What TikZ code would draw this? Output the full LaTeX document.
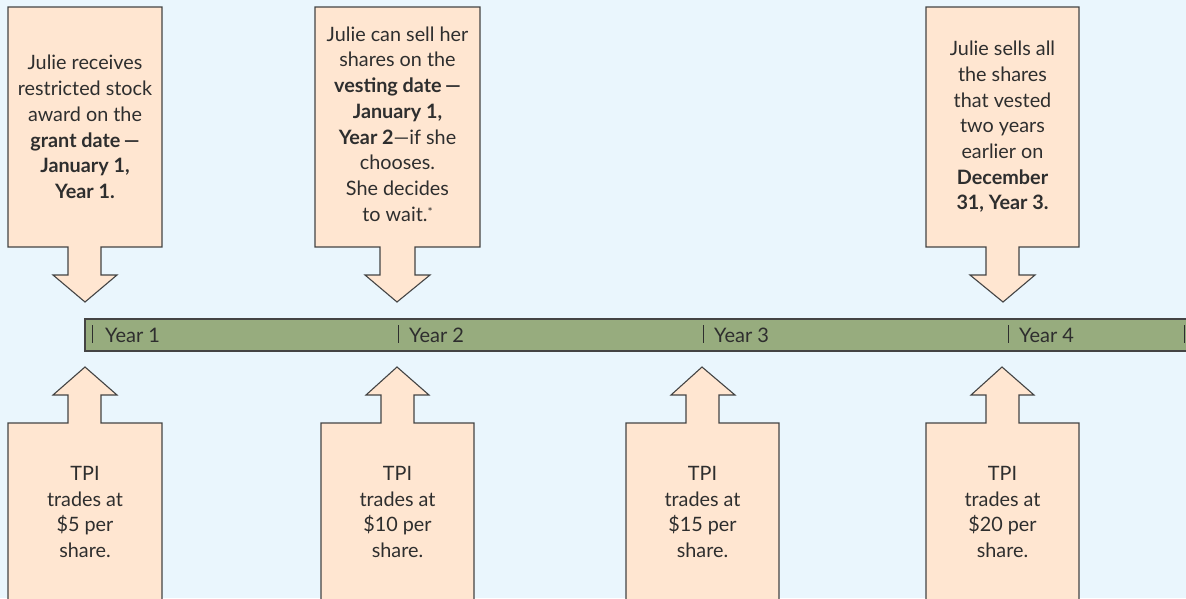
\documentclass[tikz,border=0pt]{standalone}
\usepackage{fontspec}
\setmainfont{Lato}
\definecolor{bgblue}{HTML}{EAF6FD}
\definecolor{peach}{HTML}{FFE6D1}
\definecolor{bargreen}{HTML}{97AC7E}
\definecolor{txt}{HTML}{2E2E2E}
\definecolor{edge}{HTML}{444444}
\newcommand\dcall[7]{% x1 x2 sl sr hl hr tip
  \draw[callout] (#1,7) -- (#2,7) -- (#2,247) -- (#4,247) -- (#4,275) -- (#6,275) -- (#7,302) -- (#5,275) -- (#3,275) -- (#3,247) -- (#1,247) -- cycle;}
\newcommand\ucall[7]{%
  \draw[callout] (#1,605) -- (#1,423) -- (#3,423) -- (#3,395) -- (#5,395) -- (#7,367) -- (#6,395) -- (#4,395) -- (#4,423) -- (#2,423) -- (#2,605) -- cycle;}
\begin{document}
\begin{tikzpicture}[x=1pt,y=-1pt,
  callout/.style={fill=peach,draw=edge,line width=1.1pt,line join=miter},
  ctext/.style={text=txt,align=center,font=\fontsize{19.8}{25.7}\selectfont,inner sep=0pt},
  yeartext/.style={text=txt,anchor=west,font=\fontsize{20}{22}\selectfont,inner sep=0pt},
  tick/.style={draw=txt,line width=1pt}]
\fill[bgblue] (0,0) rectangle (1186,598);
\useasboundingbox (0,0) rectangle (1186,598);
% top callouts
\dcall{8}{162}{68}{101}{53}{117}{85}
\dcall{315}{480}{380}{415}{365}{430}{397}
\dcall{926}{1079}{986}{1019}{970}{1035}{1003}
\node[ctext] (ta) at (85,127) {Julie receives\\restricted stock\\award on the\\\textbf{grant date\,—}\\\textbf{January 1,}\\\textbf{Year 1.}};
\node[ctext] (tb) at (397.5,124) {Julie can sell her\\shares on the\\\textbf{vesting date\,—}\\\textbf{January 1,}\\\textbf{Year 2}—if she\\chooses.\\She decides\\to wait.\raisebox{0.5ex}{\fontsize{12}{12}\selectfont *}};
\node[ctext] (tc) at (1002.5,127) {Julie sells all\\the shares\\that vested\\two years\\earlier on\\\textbf{December}\\\textbf{31, Year 3.}};
% timeline bar
\draw[fill=bargreen,draw=edge,line width=1.3pt] (85,319) rectangle (1192,351);
\foreach \x in {92,398,703,1008,1184}{\draw[tick] (\x,325) -- (\x,343);}
\node[yeartext] (y1) at (105,335) {Year 1};
\node[yeartext] (y2) at (409,335) {Year 2};
\node[yeartext] (y3) at (714,335) {Year 3};
\node[yeartext] (y4) at (1019,335) {Year 4};
% bottom callouts
\ucall{8}{162}{68}{101}{53}{117}{85}
\ucall{321}{474}{381}{414}{366}{429}{397}
\ucall{626}{779}{686}{719}{671}{735}{702}
\ucall{926}{1079}{986}{1019}{971}{1034}{1002}
\node[ctext] (b1) at (85,512) {TPI\\trades at\\\$5 per\\share.};
\node[ctext] (b2) at (397.5,512) {TPI\\trades at\\\$10 per\\share.};
\node[ctext] (b3) at (702.5,512) {TPI\\trades at\\\$15 per\\share.};
\node[ctext] (b4) at (1002.5,512) {TPI\\trades at\\\$20 per\\share.};
\end{tikzpicture}
\end{document}
